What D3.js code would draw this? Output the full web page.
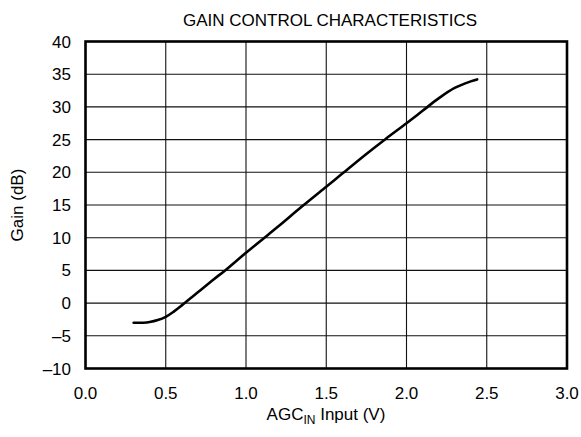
<!DOCTYPE html>
<html>
<head>
<meta charset="utf-8">
<script src="https://cdn.jsdelivr.net/npm/d3@7"></script>
<style>
  html, body { margin: 0; padding: 0; background: #fff; }
  svg { display: block; font-family: "Liberation Sans", Arial, sans-serif; }
</style>
</head>
<body>
<svg id="chart" width="581" height="437"></svg>
<script>
// AGC input voltage (V) vs gain (dB)
const agcIn = [0.30, 0.36, 0.40, 0.45, 0.50, 0.55, 0.60, 0.65, 0.70, 0.80, 0.87, 1.00, 1.10, 1.20, 1.35, 1.50, 1.60, 1.75, 1.87, 2.00, 2.10, 2.20, 2.30, 2.40, 2.44];
const gain  = [-3.0, -3.0, -2.9, -2.6, -2.1, -1.3, -0.35, 0.65, 1.65, 3.65, 5.0, 7.7, 9.7, 11.7, 14.8, 17.8, 19.8, 22.8, 25.1, 27.5, 29.4, 31.3, 32.9, 33.9, 34.2];

const xTicks = [0, 0.5, 1.0, 1.5, 2.0, 2.5, 3.0];
const yTicks = [-10, -5, 0, 5, 10, 15, 20, 25, 30, 35, 40];

const svg = d3.select('#chart');
const m = { left: 85.5, right: 567, top: 41.5, bottom: 368.5 };

const x = d3.scaleLinear().domain([0, 3]).range([m.left, m.right]);
const y = d3.scaleLinear().domain([-10, 40]).range([m.bottom, m.top]);

// grid
const grid = svg.append('g').attr('stroke', '#111').attr('stroke-width', 1.1);
grid.selectAll('line.v').data(xTicks).enter().append('line')
  .attr('x1', d => x(d)).attr('x2', d => x(d))
  .attr('y1', m.top).attr('y2', m.bottom);
grid.selectAll('line.h').data(yTicks).enter().append('line')
  .attr('x1', m.left).attr('x2', m.right)
  .attr('y1', d => y(d)).attr('y2', d => y(d));

// tick labels
svg.append('g').selectAll('text').data(xTicks).enter().append('text')
  .attr('x', d => x(d)).attr('y', 399)
  .attr('text-anchor', 'middle').attr('font-size', 17)
  .text(d => d.toFixed(1));

svg.append('g').selectAll('text').data(yTicks).enter().append('text')
  .attr('x', 71).attr('y', d => y(d) + 6)
  .attr('text-anchor', 'end').attr('font-size', 17)
  .text(d => d < 0 ? '\u2013' + Math.abs(d) : d);

// curve
const pts = agcIn.map((v, i) => [v, gain[i]]);
svg.append('path').datum(pts)
  .attr('fill', 'none').attr('stroke', '#000').attr('stroke-width', 2.6)
  .attr('stroke-linecap', 'round')
  .attr('d', d3.line().x(d => x(d[0])).y(d => y(d[1])).curve(d3.curveCatmullRom.alpha(0.5)));

// frame
svg.append('rect')
  .attr('x', m.left).attr('y', m.top)
  .attr('width', m.right - m.left).attr('height', m.bottom - m.top)
  .attr('fill', 'none').attr('stroke', '#000').attr('stroke-width', 2.6);

// titles
svg.append('text').attr('x', 330).attr('y', 26)
  .attr('text-anchor', 'middle').attr('font-size', 17)
  .text('GAIN CONTROL CHARACTERISTICS');

svg.append('text')
  .attr('transform', `translate(23,${(m.top + m.bottom) / 2}) rotate(-90)`)
  .attr('text-anchor', 'middle').attr('font-size', 17)
  .text('Gain (dB)');

const xl = svg.append('text').attr('x', 326).attr('y', 420)
  .attr('text-anchor', 'middle').attr('font-size', 17);
xl.append('tspan').text('AGC');
xl.append('tspan').attr('font-size', 12).attr('dy', 4).text('IN');
xl.append('tspan').attr('dy', -4).text(' Input (V)');
</script>
</body>
</html>
